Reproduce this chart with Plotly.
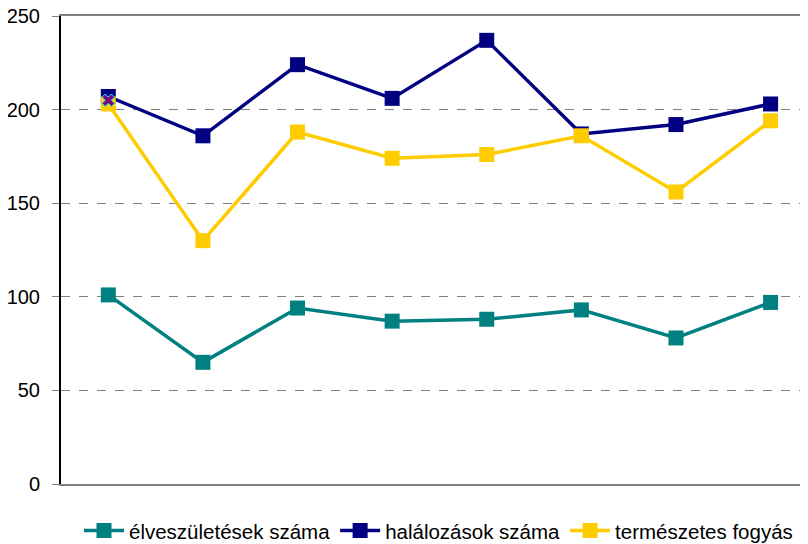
import plotly.graph_objects as go

categories = [1, 2, 3, 4, 5, 6, 7, 8]
elveszuletesek = [101, 65, 94, 87, 88, 93, 78, 97]
halalozasok = [207, 186, 224, 206, 237, 187, 192, 203]
termeszetes_fogyas = [203, 130, 188, 174, 176, 186, 156, 194]
marker_x = [1]
marker_y = [205]

fig = go.Figure()

series = [
    ("élveszületések száma", elveszuletesek, "#008080"),
    ("halálozások száma", halalozasok, "#000080"),
    ("természetes fogyás", termeszetes_fogyas, "#FFCC00"),
]
for name, vals, color in series:
    fig.add_trace(go.Scatter(
        x=categories, y=vals, name=name, mode="lines+markers",
        line=dict(color=color, width=3.5),
        marker=dict(symbol="square", size=15, color=color),
    ))

# odd single marker drawn on the first point
fig.add_trace(go.Scatter(
    x=marker_x, y=marker_y, mode="markers", showlegend=False,
    marker=dict(symbol="x", size=11, color="#800080",
                line=dict(color="#00FFFF", width=1)),
))

# page body adds 8px offset, margins compensate
fig.update_layout(
    width=808, height=544,
    margin=dict(l=53, r=0, t=8, b=68, autoexpand=False),
    paper_bgcolor="white", plot_bgcolor="white",
    font=dict(family="Liberation Sans, Arial, sans-serif", size=20, color="black"),
    xaxis=dict(
        range=[0.5, 8.48], showticklabels=False, ticks="",
        showgrid=False, zeroline=False,
        showline=True, linecolor="#808080", linewidth=2, mirror=True,
    ),
    yaxis=dict(
        range=[0, 250], dtick=50, ticks="outside", ticklen=7,
        tickcolor="#808080", showgrid=True, gridcolor="#808080",
        griddash="dash", gridwidth=1, zeroline=False,
        showline=True, linecolor="black", linewidth=2,
        ticklabelstandoff=8, ticklabeloverflow="allow",
    ),
    legend=dict(
        orientation="h", x=0.5, xanchor="center", y=-0.057, yanchor="top",
        font=dict(size=20.5), itemwidth=40, tracegroupgap=0,
    ),
)

fig.write_html("out.html")
